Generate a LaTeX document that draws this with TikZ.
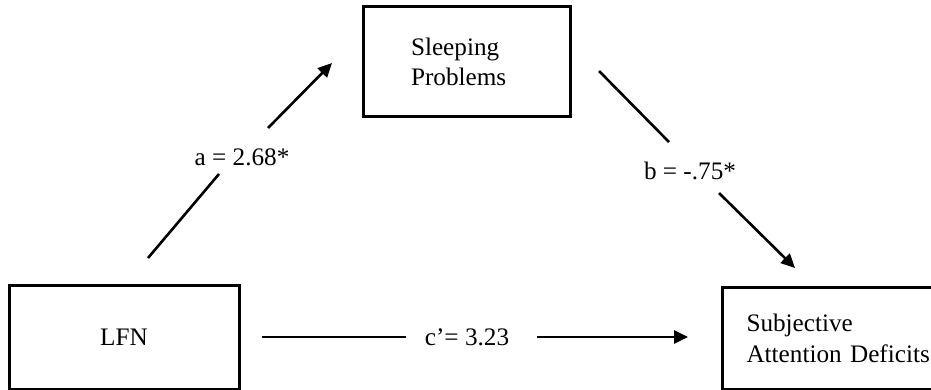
\documentclass[tikz,border=0pt]{standalone}
\usepackage{fontspec}
\setmainfont{Liberation Serif}
\usetikzlibrary{arrows.meta,positioning}

\begin{document}
\begin{tikzpicture}[x=0.5pt,y=-0.5pt,
    box/.style={draw,line width=1.5pt,inner sep=0pt,font=\fontsize{12.6}{15.3}\selectfont},
    seg/.style={line width=1.3pt},
    arr/.style={line width=1.3pt,-{Triangle[length=7pt,width=6.5pt]}},
    coef/.style={font=\fontsize{12.6}{15.3}\selectfont,inner sep=0pt}]
    \useasboundingbox (0,0) rectangle (931,390);

    % Variables
    \node[box,minimum width=103.5pt,minimum height=55pt,text width=55.5pt,inner xsep=24pt,align=left] (sleep) at (466.5,62) {Sleeping\\Problems};
    \node[box,minimum width=115pt,minimum height=52pt] (lfn) at (124,337) {LFN};
    \node[box,anchor=north west,minimum height=51pt,text width=96pt,inner xsep=12pt,align=left] (subj) at (721,286) {Subjective\\Attention Deficits};

    % Path a
    \coordinate (a1) at (148,258);
    \coordinate (a2) at (219,174);
    \coordinate (a3) at (268,128);
    \coordinate (a4) at (332,63);
    \draw[seg] (a1) -- (a2);
    \draw[arr] (a3) -- (a4);
    \node[coef] (alab) at (242,157) {a = 2.68*};

    % Path b
    \coordinate (b1) at (599,71);
    \coordinate (b2) at (669,142);
    \coordinate (b3) at (719,193);
    \coordinate (b4) at (795,268);
    \draw[seg] (b1) -- (b2);
    \draw[arr] (b3) -- (b4);
    \node[coef] (blab) at (690,171) {b = -.75*};

    % Direct path c'
    \coordinate (c1) at (262,337);
    \coordinate (c2) at (406,337);
    \coordinate (c3) at (537,337);
    \coordinate (c4) at (688,337);
    \draw[seg] (c1) -- (c2);
    \draw[arr] (c3) -- (c4);
    \node[coef] (clab) at (467,337) {c'= 3.23};
\end{tikzpicture}
\end{document}
